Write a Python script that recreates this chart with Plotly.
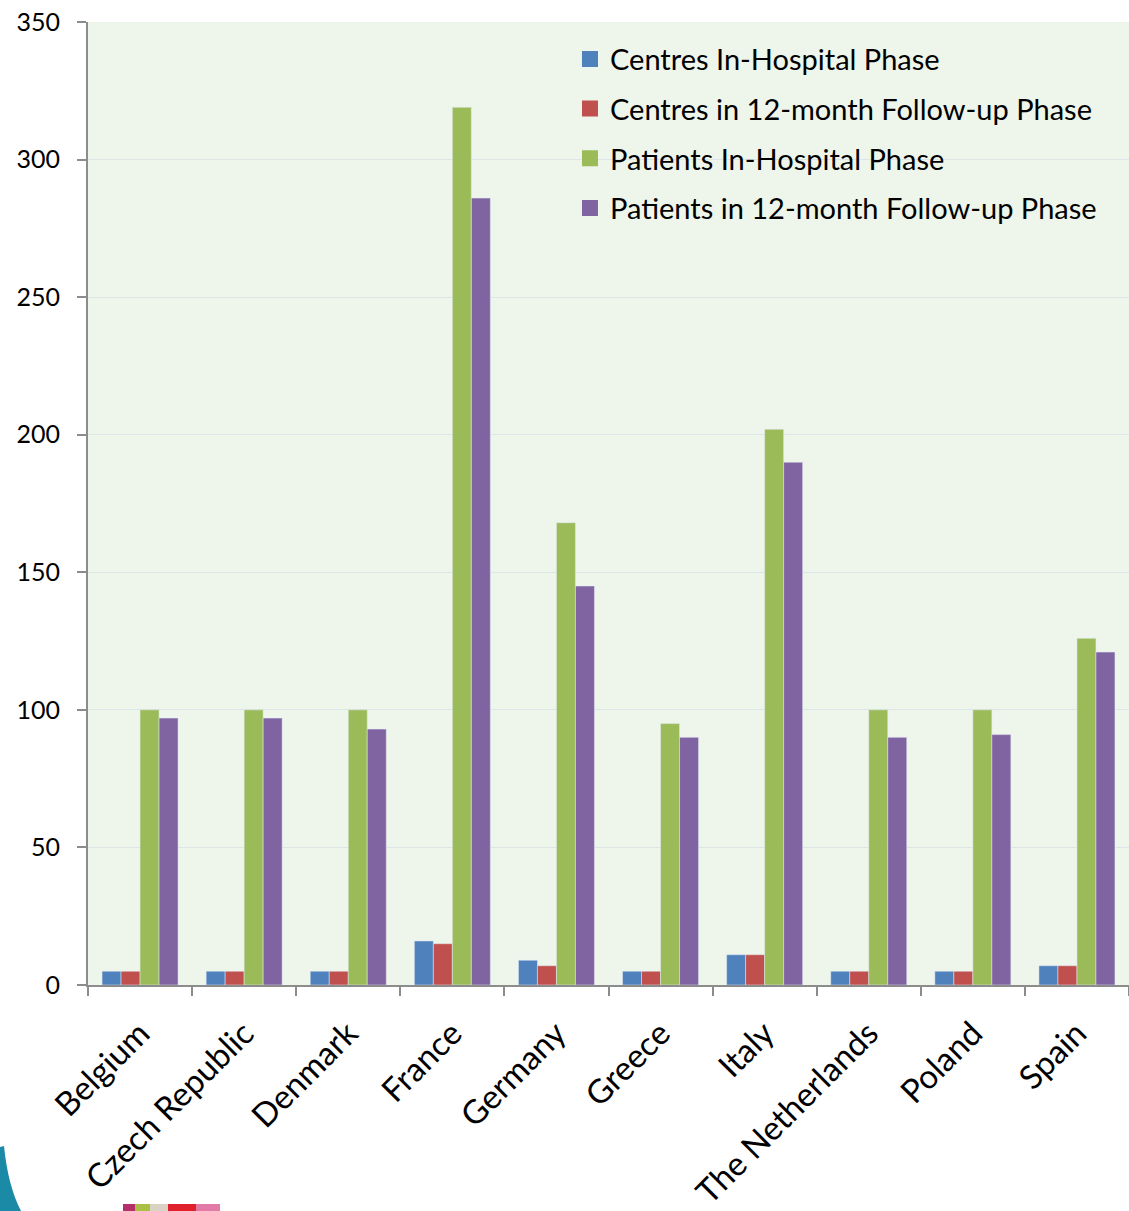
import plotly.graph_objects as go

countries = ["Belgium", "Czech Republic", "Denmark", "France", "Germany",
             "Greece", "Italy", "The Netherlands", "Poland", "Spain"]
centres_in_hospital = [5, 5, 5, 16, 9, 5, 11, 5, 5, 7]
centres_follow_up = [5, 5, 5, 15, 7, 5, 11, 5, 5, 7]
patients_in_hospital = [100, 100, 100, 319, 168, 95, 202, 100, 100, 126]
patients_follow_up = [97, 97, 93, 286, 145, 90, 190, 90, 91, 121]

series_names = ["Centres In-Hospital Phase", "Centres in 12-month Follow-up Phase",
                "Patients In-Hospital Phase", "Patients in 12-month Follow-up Phase"]
series_values = [centres_in_hospital, centres_follow_up, patients_in_hospital, patients_follow_up]
series_colors = ["#4F81BD", "#C0504D", "#9BBB59", "#8064A2"]

W, H = 1129, 1211
L, R, T, B = 88, 0, 22, 226
PW, PH = W - L - R, H - T - B
PLOT_BG = "#EEF5EA"
FONT = "Lato"

fig = go.Figure()
for name, vals, col in zip(series_names, series_values, series_colors):
    fig.add_trace(go.Bar(x=countries, y=vals, name=name, marker_color=col,
                         legendgroup=name, showlegend=False))
# legend entries with larger square swatches
for name, col in zip(series_names, series_colors):
    fig.add_trace(go.Scatter(x=[None], y=[None], mode="markers", name=name,
                             legendgroup=name, showlegend=True,
                             marker=dict(symbol="square", size=16, color=col)))


def px(x, y):
    return (x - L) / PW, (H - B - y) / PH


shapes = []
# legend background box (hides gridlines behind legend, as in the original)
a = px(553, 23)
b = px(1129, 240)
shapes.append(dict(type="rect", xref="paper", yref="paper", x0=a[0], x1=b[0],
                   y0=b[1], y1=a[1], fillcolor=PLOT_BG, line=dict(width=0),
                   layer="between"))
# partial logo at bottom-left (decorative)
p = "M {} {} L {} {} Q {} {} {} {} L {} {} Z".format(
    *px(0, 1147), *px(4, 1146), *px(8, 1186), *px(21, 1211), *px(0, 1211))
shapes.append(dict(type="path", xref="paper", yref="paper", path=p,
                   fillcolor="#1A8AA6", line=dict(width=0), layer="above"))
for x0, x1, c in [(123, 135, "#B3306B"), (135, 150, "#A9C044"), (150, 168, "#DAD3C4"),
                  (168, 196, "#E0202A"), (196, 220, "#E27AA6")]:
    a = px(x0, 1204)
    b = px(x1, 1212)
    shapes.append(dict(type="rect", xref="paper", yref="paper", x0=a[0], x1=b[0],
                       y0=b[1], y1=a[1], fillcolor=c, line=dict(width=0)))

fig.update_layout(
    width=W, height=H,
    margin=dict(l=L, r=R, t=T, b=B, pad=0),
    paper_bgcolor="white",
    plot_bgcolor=PLOT_BG,
    barmode="group",
    bargap=0.27,
    bargroupgap=0,
    font=dict(family=FONT, color="black"),
    shapes=shapes,
    legend=dict(
        x=0.463, y=0.988, xanchor="left", yanchor="top",
        bgcolor="rgba(0,0,0,0)",
        font=dict(family=FONT, size=29, color="black"),
        tracegroupgap=9,
        itemwidth=30,
    ),
    xaxis=dict(
        tickangle=-45,
        tickfont=dict(family=FONT, size=33, color="black"),
        showline=True, linecolor="#8C8C8C", linewidth=2,
        ticks="outside", ticklen=9, tickcolor="#8C8C8C", tickwidth=2,
        tickson="boundaries",
        ticklabelstandoff=14,
        showgrid=False,
    ),
    yaxis=dict(
        range=[0, 350],
        tickvals=[0, 50, 100, 150, 200, 250, 300, 350],
        tickfont=dict(family=FONT, size=25, color="black"),
        showline=True, linecolor="#8C8C8C", linewidth=2,
        ticks="outside", ticklen=9, tickcolor="#8C8C8C", tickwidth=2,
        ticklabelstandoff=12,
        showgrid=True, gridcolor="#DCE5E8", gridwidth=1,
        zeroline=False,
    ),
)

fig.write_html("out.html")
